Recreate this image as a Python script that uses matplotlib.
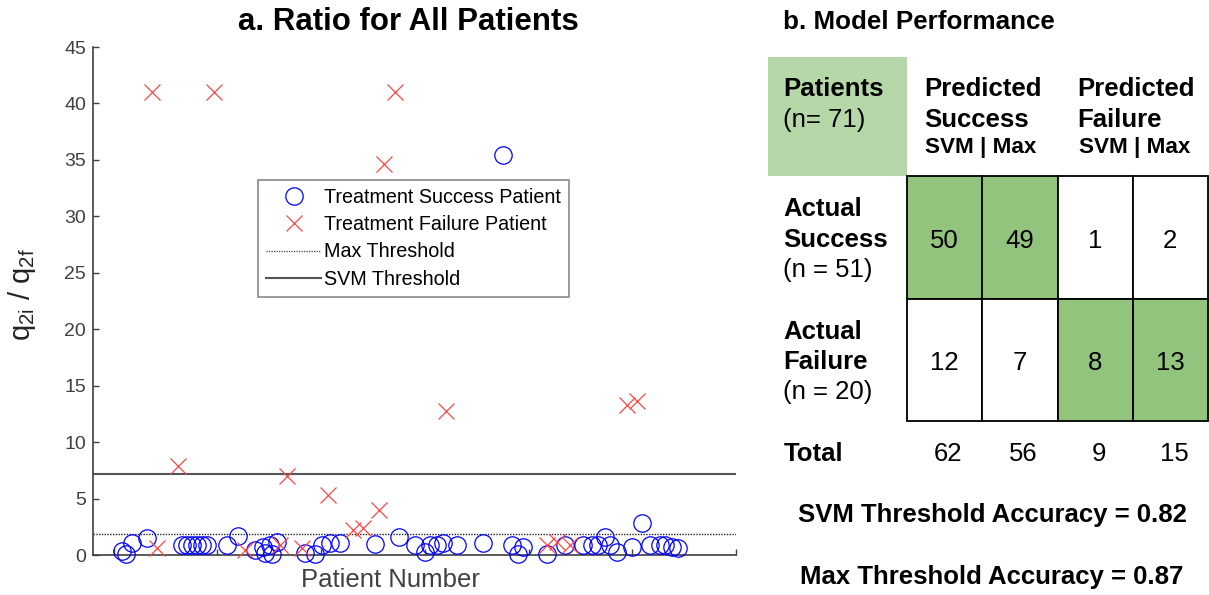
import matplotlib
matplotlib.use("Agg")
import matplotlib.pyplot as plt
from matplotlib.patches import Rectangle
from matplotlib.lines import Line2D

plt.rcParams['font.family'] = ['Liberation Sans', 'DejaVu Sans']
plt.rcParams['mathtext.fontset'] = 'custom'
plt.rcParams['mathtext.rm'] = 'Liberation Sans'
plt.rcParams['mathtext.it'] = 'Liberation Sans'

# ---- data: panel a ----
success_x = [0.80, 1.18, 1.76, 3.21, 6.58, 7.06, 7.55, 8.03, 8.51, 8.99, 10.92, 11.98, 13.62,
             14.39, 14.59, 15.07, 15.26, 15.74, 18.44, 19.41, 20.08, 20.85, 21.82, 25.19, 27.51,
             29.05, 30.02, 30.50, 31.17, 31.75, 33.10, 35.61, 37.54, 38.41, 38.98, 39.47, 41.78,
             43.52, 45.25, 46.12, 46.70, 47.37, 47.86, 48.53, 49.98, 50.94, 51.71, 52.68, 53.16,
             53.84, 54.41]
success_y = [0.35, 0.1, 1.06, 1.5, 0.9, 0.9, 0.9, 0.9, 0.9, 0.9, 0.9, 1.7, 0.45, 0.7, 0.2, 0.9,
             0.05, 1.15, 0.2, 0.05, 0.9, 1.05, 1.05, 0.97, 1.6, 0.9, 0.3, 0.9, 0.9, 1.05, 0.9, 1.05,
             35.4, 0.9, 0.05, 0.7, 0.05, 0.9, 0.9, 0.9, 0.9, 1.6, 0.9, 0.3, 0.7, 2.8, 0.9, 0.9, 0.9,
             0.7, 0.6]
failure_x = [3.69, 4.17, 6.20, 9.67, 12.66, 16.03, 16.71, 18.15, 20.66, 23.07, 24.04, 25.58,
             26.06, 27.12, 32.04, 41.78, 42.74, 44.00, 49.49, 50.46]
failure_y = [41, 0.6, 7.9, 41, 0.45, 0.9, 7.0, 0.6, 5.3, 2.2, 2.4, 4.0, 34.6, 41, 12.8, 0.9,
             1.15, 0.9, 13.3, 13.6]
svm_threshold = 7.2
max_threshold = 1.85

# ---- data: panel b ----
row_titles = [["Actual", "Success", "(n = 51)"], ["Actual", "Failure", "(n = 20)"]]
col_titles = [["Predicted", "Success"], ["Predicted", "Failure"]]
counts = [[50, 49, 1, 2], [12, 7, 8, 13]]
correct = [[True, True, False, False], [False, False, True, True]]
totals = [62, 56, 9, 15]
svm_acc = 0.82
max_acc = 0.87

W, H = 1209, 595
fig = plt.figure(figsize=(W / 100, H / 100), dpi=100)

# ---------------- panel a ----------------
ax = fig.add_axes([93 / W, 40 / H, 643 / W, 508 / H])
axc = '#404040'
ms_o, ms_x = 12.5, 11.5
ax.plot(success_x, success_y, 'o', ms=ms_o, mfc='none', mec='#0000ff', mew=0.9,
        clip_on=False, zorder=3)
ax.plot(failure_x, failure_y, 'x', ms=ms_x, color='#ff4545', mew=0.9, clip_on=False, zorder=3)
ax.axhline(max_threshold, color='#222222', ls=(0, (1, 1)), lw=1.0)
ax.axhline(svm_threshold, color='#555555', lw=1.5)

ax.set_xlim(-2, 60)
ax.set_ylim(0, 45)
ax.set_xticks(range(0, 61, 10))
ax.set_xticklabels([])
ax.set_yticks(range(0, 46, 5))
ax.tick_params(direction='in', length=4, width=1, colors=axc, labelsize=14, pad=5)
for s in ['top', 'right']:
    ax.spines[s].set_visible(False)
for s in ['left', 'bottom']:
    ax.spines[s].set_color(axc)
    ax.spines[s].set_linewidth(1.2)

ax.text(0.491, 1.049, 'a. Ratio for All Patients', transform=ax.transAxes,
        ha='center', va='center', fontsize=22.5, fontweight='bold')
ax.text(0.462, -0.049, 'Patient Number', transform=ax.transAxes,
        ha='center', va='center', fontsize=18.5, color=axc)
ax.text(-0.11, 0.512, r'q$_{\mathregular{2i}}$ / q$_{\mathregular{2f}}$', transform=ax.transAxes,
        ha='center', va='center', fontsize=21, rotation=90, color='#222222')

handles = [
    Line2D([], [], ls='none', marker='o', ms=ms_o, mfc='none', mec='#0000ff', mew=0.9),
    Line2D([], [], ls='none', marker='x', ms=ms_x, color='#ff4545', mew=0.9),
    Line2D([], [], color='#444444', ls=(0, (1, 1)), lw=0.9),
    Line2D([], [], color='#555555', lw=1.5),
]
labels = ['Treatment Success Patient', 'Treatment Failure Patient', 'Max Threshold', 'SVM Threshold']
leg = ax.legend(handles, labels, loc='upper left', bbox_to_anchor=(258 / W, 1 - 180 / H),
                bbox_transform=fig.transFigure, fontsize=14.2, frameon=True, fancybox=False,
                borderaxespad=0, borderpad=0.4, handlelength=2.8, handletextpad=0.15,
                labelspacing=0.42)
leg.get_frame().set_edgecolor('#777777')
leg.get_frame().set_linewidth(1.3)

# ---------------- panel b ----------------
tb = fig.add_axes([907 / W, 174 / H, 301 / W, 245 / H])
tb.set_xlim(0, 4)
tb.set_ylim(2, 0)
tb.axis('off')

fs = 18.5
lx = -1.642
green = '#93c47d'
light = '#b6d7a8'

tb.add_patch(Rectangle((-1.841, -0.971), 1.841, 0.971, facecolor=light, edgecolor='none',
                       clip_on=False))
tb.text(lx, -1.257, 'b. Model Performance', ha='left', va='center', fontsize=18.7,
        fontweight='bold')
tb.text(lx, -0.71, 'Patients', ha='left', va='center', fontsize=fs, fontweight='bold')
tb.text(lx, -0.457, '(n= 71)', ha='left', va='center', fontsize=fs)

for k, (a, b) in enumerate(col_titles):
    x0 = 0.225 + 2.04 * k
    tb.text(x0, -0.71, a, ha='left', va='center', fontsize=fs, fontweight='bold')
    tb.text(x0, -0.457, b, ha='left', va='center', fontsize=fs, fontweight='bold')
    tb.text(x0 + 0.02, -0.229, 'SVM | Max', ha='left', va='center', fontsize=16.2,
            fontweight='bold')

for i in range(2):
    for j in range(4):
        tb.add_patch(Rectangle((j, i), 1, 1, facecolor=green if correct[i][j] else 'white',
                               edgecolor='black', lw=1.3, clip_on=False))
        tb.text(j + 0.5, i + 0.53, str(counts[i][j]), ha='center', va='center', fontsize=fs)
    t1, t2, t3 = row_titles[i]
    tb.text(lx, i + 0.27, t1, ha='left', va='center', fontsize=fs, fontweight='bold')
    tb.text(lx, i + 0.52, t2, ha='left', va='center', fontsize=fs, fontweight='bold')
    tb.text(lx, i + 0.767, t3, ha='left', va='center', fontsize=fs)

tb.text(lx, 2.27, 'Total', ha='left', va='center', fontsize=fs, fontweight='bold')
for j, t in enumerate(totals):
    tb.text(j + 0.55, 2.27, str(t), ha='center', va='center', fontsize=fs)

tb.text(1.13, 2.765, 'SVM Threshold Accuracy = %.2f' % svm_acc, ha='center', va='center',
        fontsize=fs, fontweight='bold')
tb.text(1.13, 3.27, 'Max Threshold Accuracy = %.2f' % max_acc, ha='center', va='center',
        fontsize=fs, fontweight='bold')

fig.savefig('out.png', dpi=100)
